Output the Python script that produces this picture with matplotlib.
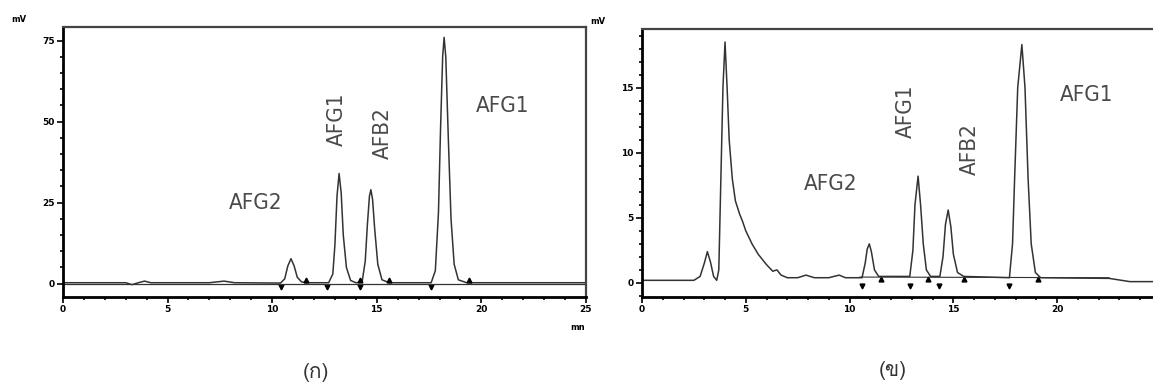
import matplotlib
matplotlib.use('Agg')
from matplotlib import pyplot as plt
from matplotlib import font_manager
from matplotlib.ft2font import FT2Font
from matplotlib.ticker import MultipleLocator

# Trace (a): standard mix, time in min, signal in mV
time_a = [0, 3.0, 3.3, 3.6, 3.9, 4.2, 7.0, 7.7, 8.2, 10.4, 10.6, 10.75, 10.9,
          11.05, 11.2, 11.4, 11.6, 12.7, 12.9, 13.0, 13.1, 13.2, 13.3, 13.4,
          13.55, 13.75, 14.0, 14.3, 14.45, 14.55, 14.65, 14.72, 14.8, 14.9,
          15.05, 15.25, 15.6, 17.6, 17.8, 17.95, 18.05, 18.15, 18.22, 18.3,
          18.42, 18.55, 18.7, 18.9, 19.3, 25]
signal_a = [0.3, 0.3, -0.3, 0.3, 0.8, 0.3, 0.3, 0.8, 0.3, 0.2, 1.5, 5.5, 7.7,
            5.5, 2.0, 0.6, 0.3, 0.3, 3, 12, 27, 34, 28, 15,
            5, 1, 0.3, 0.5, 7, 18, 27, 29, 26, 17,
            6, 1.2, 0.3, 0.3, 4, 22, 48, 70, 76, 70,
            45, 20, 6, 1.2, 0.3, 0.3]
starts_a = [10.4, 12.6, 14.2, 17.6]
ends_a = [11.6, 14.2, 15.6, 19.4]

# Trace (b): sample
time_b = [0, 2.5, 2.8, 3.0, 3.15, 3.3, 3.45, 3.6, 3.7, 3.8, 3.9, 4.0, 4.1,
          4.2, 4.35, 4.5, 4.7, 4.85, 5.0, 5.3, 5.6, 6.0, 6.3, 6.5, 6.7, 7.0,
          7.5, 7.9, 8.3, 9.0, 9.5, 9.8, 10.6, 10.75, 10.85, 10.95, 11.05,
          11.2, 11.4, 12.9, 13.05, 13.15, 13.3, 13.42, 13.55, 13.7, 13.9,
          14.35, 14.5, 14.62, 14.75, 14.88, 15.0, 15.2, 15.5, 17.7, 17.85,
          17.95, 18.1, 18.3, 18.45, 18.6, 18.75, 18.95, 19.2, 22.5, 23.5, 25]
signal_b = [0.2, 0.2, 0.5, 1.5, 2.4, 1.6, 0.5, 0.2, 1.0, 8, 15, 18.5, 15,
            11, 8, 6.3, 5.3, 4.7, 4.0, 3.0, 2.2, 1.4, 0.9, 1.0, 0.6, 0.4,
            0.4, 0.6, 0.4, 0.4, 0.6, 0.4, 0.4, 1.5, 2.6, 3.0, 2.4,
            1.0, 0.5, 0.5, 2.5, 6, 8.2, 6, 3, 1.0, 0.5,
            0.5, 2, 4.5, 5.6, 4.3, 2.2, 0.8, 0.5, 0.4, 3,
            8, 15, 18.3, 15, 8, 3, 0.8, 0.4, 0.35, 0.1, 0.1]
starts_b = [10.6, 12.9, 14.3, 17.7]
ends_b = [11.5, 13.8, 15.5, 19.1]

# peak labels: (text, x, y, rotation)
labels_a = [('AFG2', 9.2, 25, 0), ('AFG1', 13.1, 50.6, 90),
            ('AFB2', 15.3, 46.6, 90), ('AFG1', 21.0, 54.7, 0)]
labels_b = [('AFG2', 9.1, 7.6, 0), ('AFG1', 12.7, 13.2, 90),
            ('AFB2', 15.8, 10.3, 90), ('AFG1', 21.4, 14.4, 0)]


def thai_family():
    for f in font_manager.fontManager.ttflist:
        try:
            if 0x0E01 in FT2Font(f.fname).get_charmap():
                return f.name
        except Exception:
            continue
    return 'DejaVu Sans'


def draw(ax, t, s, starts, ends, labels, ylim, ymajor, yminor):
    ax.plot(t, s, color='#333333', linewidth=1.1)
    ax.plot(starts, [ylim[0] * 0.25] * len(starts), 'v', color='black',
            markersize=3.5)
    ax.plot(ends, [abs(ylim[0]) * 0.25] * len(ends), '^', color='black',
            markersize=3.5)
    for text, x, y, rot in labels:
        ax.text(x, y, text, rotation=rot, ha='center', va='center',
                fontsize=16, color='#4a4a4a',
                family=['Liberation Sans Narrow', 'DejaVu Sans'],
                fontstretch='condensed')
    ax.set_xlim(0, 25)
    ax.set_ylim(*ylim)
    ax.xaxis.set_major_locator(MultipleLocator(5))
    ax.xaxis.set_minor_locator(MultipleLocator(1))
    ax.yaxis.set_major_locator(MultipleLocator(ymajor))
    ax.yaxis.set_minor_locator(MultipleLocator(yminor))
    ax.tick_params(which='major', direction='out', length=4, width=1.2,
                   labelsize=6.5, pad=2)
    ax.tick_params(which='minor', direction='out', length=2.5, width=1.2)
    for lab in ax.get_xticklabels() + ax.get_yticklabels():
        lab.set_fontweight('bold')
    ax.spines['left'].set_linewidth(2)
    ax.spines['bottom'].set_linewidth(2)
    ax.spines['top'].set_linewidth(1.6)
    ax.spines['right'].set_linewidth(1.6)
    ax.spines['top'].set_color('#444444')
    ax.spines['right'].set_color('#444444')


fig = plt.figure(figsize=(11.53, 3.85), dpi=100)
ax_a = fig.add_axes([0.0546, 0.2286, 0.4536, 0.7013])
ax_b = fig.add_axes([0.5568, 0.2286, 0.4501, 0.6961])

draw(ax_a, time_a, signal_a, starts_a, ends_a, labels_a, (-4.1, 79.2), 25, 5)
ax_a.axhline(0, color='#333333', linewidth=0.9)
draw(ax_b, time_b, signal_b, starts_b, ends_b, labels_b, (-1.08, 19.5), 5, 1)
ax_b.plot([10.5, 22.5], [0.45, 0.4], color='#333333', linewidth=0.8)

fig.text(19 / 1153, 1 - 19 / 385, 'mV', fontsize=6, fontweight='bold',
         ha='center', va='center')
fig.text(598 / 1153, 1 - 22 / 385, 'mV', fontsize=6, fontweight='bold',
         ha='center', va='center')
fig.text(578 / 1153, 1 - 328 / 385, 'mn', fontsize=6, fontweight='bold',
         ha='center', va='center')

thai = thai_family()
fig.text(316 / 1153, 1 - 372 / 385, '(ก)', fontsize=15, color='#333333',
         ha='center', va='center', family=[thai, 'DejaVu Sans'])
fig.text(893 / 1153, 1 - 370 / 385, '(ข)', fontsize=15, color='#333333',
         ha='center', va='center', family=[thai, 'DejaVu Sans'])

fig.savefig('out.png', dpi=100)
